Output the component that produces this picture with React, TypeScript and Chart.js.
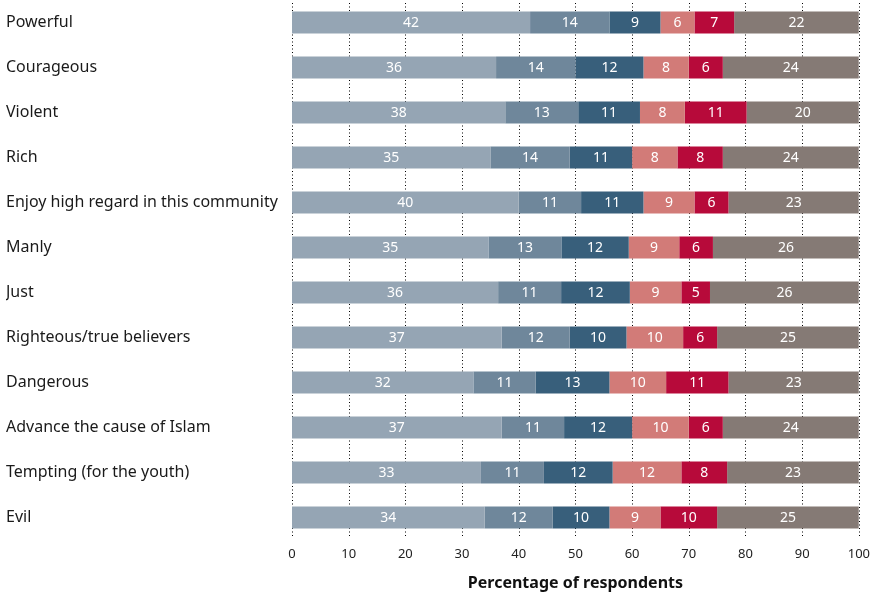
import React, { useEffect, useRef } from "react";
import { Chart, registerables } from "chart.js";

Chart.register(...registerables);

const categories = [
  "Powerful",
  "Courageous",
  "Violent",
  "Rich",
  "Enjoy high regard in this community",
  "Manly",
  "Just",
  "Righteous/true believers",
  "Dangerous",
  "Advance the cause of Islam",
  "Tempting (for the youth)",
  "Evil",
];

const series1 = [42, 36, 38, 35, 40, 35, 36, 37, 32, 37, 33, 34];
const series2 = [14, 14, 13, 14, 11, 13, 11, 12, 11, 11, 11, 12];
const series3 = [9, 12, 11, 11, 11, 12, 12, 10, 13, 12, 12, 10];
const series4 = [6, 8, 8, 8, 9, 9, 9, 10, 10, 10, 12, 9];
const series5 = [7, 6, 11, 8, 6, 6, 5, 6, 11, 6, 8, 10];
const series6 = [22, 24, 20, 24, 23, 26, 26, 25, 23, 24, 23, 25];

const seriesColors = ["#95a5b4", "#6f879b", "#385f7b", "#d27b78", "#b70a3a", "#857a75"];
const xTicks = [0, 10, 20, 30, 40, 50, 60, 70, 80, 90, 100];
const xTitle = "Percentage of respondents";

const FONT = "'Noto Sans', 'Open Sans', sans-serif";

const allSeries = [series1, series2, series3, series4, series5, series6];

const segmentLabels = {
  id: "segmentLabels",
  afterDatasetsDraw(chart: any) {
    const ctx = chart.ctx;
    ctx.save();
    ctx.fillStyle = "#ffffff";
    ctx.font = `14px ${FONT}`;
    ctx.textAlign = "center";
    ctx.textBaseline = "middle";
    chart.data.datasets.forEach((ds: any, di: number) => {
      const meta = chart.getDatasetMeta(di);
      meta.data.forEach((bar: any, i: number) => {
        const x = (bar.x + bar.base) / 2;
        ctx.fillText(String(ds.rawLabels[i]), x, bar.y + 1);
      });
    });
    ctx.restore();
  },
};

const dottedGrid = {
  id: "dottedGrid",
  beforeDatasetsDraw(chart: any) {
    const { ctx, chartArea, scales } = chart;
    ctx.save();
    ctx.strokeStyle = "#000000";
    ctx.lineWidth = 1;
    ctx.setLineDash([1, 2.5]);
    xTicks.forEach((v) => {
      const x = Math.round(scales.x.getPixelForValue(v)) + 0.5;
      ctx.beginPath();
      ctx.moveTo(x, chartArea.top + 3);
      ctx.lineTo(x, chartArea.bottom - 3);
      ctx.stroke();
    });
    ctx.restore();
  },
};

export default function App() {
  const ref = useRef<HTMLCanvasElement | null>(null);

  useEffect(() => {
    document.body.style.margin = "0";
    if (!ref.current) return;
    const totals = categories.map((_, i) => allSeries.reduce((s, arr) => s + arr[i], 0));
    const chart = new Chart(ref.current, {
      type: "bar",
      data: {
        labels: categories,
        datasets: allSeries.map((arr, k) => ({
          label: `s${k + 1}`,
          data: arr.map((v, i) => (v / totals[i]) * 100),
          rawLabels: arr,
          backgroundColor: seriesColors[k],
          borderWidth: 0,
          barPercentage: 0.49,
          categoryPercentage: 1,
        })) as any,
      },
      options: {
        indexAxis: "y",
        animation: false,
        responsive: false,
        maintainAspectRatio: false,
        layout: { padding: { left: 6, right: 17, top: 0, bottom: 0 } },
        plugins: {
          legend: { display: false },
          tooltip: { enabled: false },
        },
        scales: {
          x: {
            stacked: true,
            min: 0,
            max: 100,
            afterBuildTicks: (scale: any) => {
              scale.ticks = xTicks.map((v) => ({ value: v }));
            },
            afterFit: (scale: any) => {
              scale.height = 53;
            },
            grid: { display: false, drawTicks: false },
            border: { display: false },
            ticks: {
              color: "#222222",
              font: { family: FONT, size: 13 },
              padding: 6,
            },
            title: {
              display: true,
              text: xTitle,
              color: "#111111",
              font: { family: FONT, size: 16, weight: "bold" },
              padding: { top: 8, bottom: 0 },
            },
          },
          y: {
            stacked: true,
            grid: { display: false, drawTicks: false },
            border: { display: false },
            afterFit: (scale: any) => {
              scale.width = 286;
              scale.paddingTop = 0;
              scale.paddingBottom = 0;
            },
            ticks: {
              crossAlign: "far",
              color: "#1a1a1a",
              font: { family: FONT, size: 16 },
              padding: 0,
            },
          },
        },
      } as any,
      plugins: [segmentLabels, dottedGrid],
    });
    return () => chart.destroy();
  }, []);

  return (
    <div style={{ width: 876, height: 593 }}>
      <canvas ref={ref} width={876} height={593} style={{ width: 876, height: 593, display: "block" }} />
    </div>
  );
}
